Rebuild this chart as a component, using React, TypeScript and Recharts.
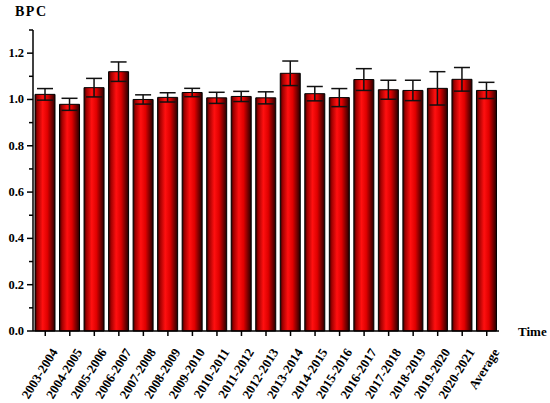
import React from "react";
import { BarChart, Bar, XAxis, YAxis, ErrorBar } from "recharts";

const categories = [
  "2003-2004", "2004-2005", "2005-2006", "2006-2007", "2007-2008", "2008-2009",
  "2009-2010", "2010-2011", "2011-2012", "2012-2013", "2013-2014", "2014-2015",
  "2015-2016", "2016-2017", "2017-2018", "2018-2019", "2019-2020", "2020-2021", "Average",
];
const bpcValues = [
  1.022, 0.979, 1.051, 1.12, 1.0, 1.009, 1.03, 1.007, 1.013, 1.007, 1.113, 1.025,
  1.008, 1.086, 1.042, 1.039, 1.048, 1.087, 1.039,
];
const bpcErrors = [
  0.025, 0.026, 0.04, 0.042, 0.02, 0.02, 0.018, 0.024, 0.022, 0.026, 0.053, 0.031,
  0.039, 0.047, 0.041, 0.044, 0.072, 0.051, 0.035,
];
const yTicks = [0, 0.1, 0.2, 0.3, 0.4, 0.5, 0.6, 0.7, 0.8, 0.9, 1.0, 1.1, 1.2, 1.3];
const yLabelTicks = [0, 0.2, 0.4, 0.6, 0.8, 1.0, 1.2];

const data = categories.map((c, i) => ({ name: c, bpc: bpcValues[i], err: bpcErrors[i] }));

const FONT = "'Liberation Serif', 'Times New Roman', serif";

const YTick = (props: any) => {
  const { x, y, payload } = props;
  const v = payload.value;
  const major = yLabelTicks.some((t) => Math.abs(t - v) < 1e-6);
  return (
    <g>
      <line x1={x - (major ? 6 : 4)} x2={x} y1={y} y2={y} stroke="#000" strokeWidth={1.5} />
      {major && (
        <text x={x - 9} y={y} dy={4} textAnchor="end" fontFamily={FONT} fontWeight="bold" fontSize={12.5} fill="#000">
          {v.toFixed(1)}
        </text>
      )}
    </g>
  );
};

const XTick = (props: any) => {
  const { x, y, payload } = props;
  const ax = x + 13;
  const ay = y + 21;
  return (
    <g>
      <line x1={x} x2={x} y1={y} y2={y + 5} stroke="#000" strokeWidth={1.5} />
      <text
        x={ax}
        y={ay}
        textAnchor="end"
        transform={`rotate(-58, ${ax}, ${ay})`}
        fontFamily={FONT}
        fontWeight="bold"
        fontSize={13}
        fill="#000"
      >
        {payload.value}
      </text>
    </g>
  );
};

export default function App() {
  return (
    <div style={{ position: "absolute", left: 0, top: 0, width: 550, height: 403, background: "#fff" }}>
      <BarChart width={550} height={403} data={data} margin={{ top: 30, right: 51, left: 0, bottom: 0 }} barSize={20}>
        <defs>
          <linearGradient id="barGrad" x1="0" y1="0" x2="1" y2="0">
            <stop offset="0%" stopColor="#300000" />
            <stop offset="12%" stopColor="#a00000" />
            <stop offset="38%" stopColor="#ff1010" />
            <stop offset="62%" stopColor="#e00000" />
            <stop offset="88%" stopColor="#600000" />
            <stop offset="100%" stopColor="#250000" />
          </linearGradient>
        </defs>
        <XAxis
          dataKey="name"
          height={72}
          interval={0}
          tickSize={0}
          tickMargin={0}
          tickLine={false}
          axisLine={{ stroke: "#000", strokeWidth: 1.5 }}
          tick={<XTick />}
        />
        <YAxis
          width={33}
          domain={[0, 1.3]}
          ticks={yTicks}
          interval={0}
          tickSize={0}
          tickMargin={0}
          tickLine={false}
          axisLine={{ stroke: "#000", strokeWidth: 1.5 }}
          tick={<YTick />}
        />
        <Bar dataKey="bpc" fill="url(#barGrad)" stroke="#000" strokeWidth={1} isAnimationActive={false}>
          <ErrorBar dataKey="err" width={8} stroke="#111" strokeWidth={1.5} />
        </Bar>
      </BarChart>
      <div
        style={{
          position: "absolute",
          left: 15,
          top: 4,
          fontFamily: FONT,
          fontWeight: "bold",
          fontSize: 14,
          letterSpacing: 1.5,
          color: "#000",
        }}
      >
        BPC
      </div>
      <div
        style={{
          position: "absolute",
          left: 518,
          top: 324,
          fontFamily: FONT,
          fontWeight: "bold",
          fontSize: 13,
          color: "#000",
        }}
      >
        Time
      </div>
    </div>
  );
}
